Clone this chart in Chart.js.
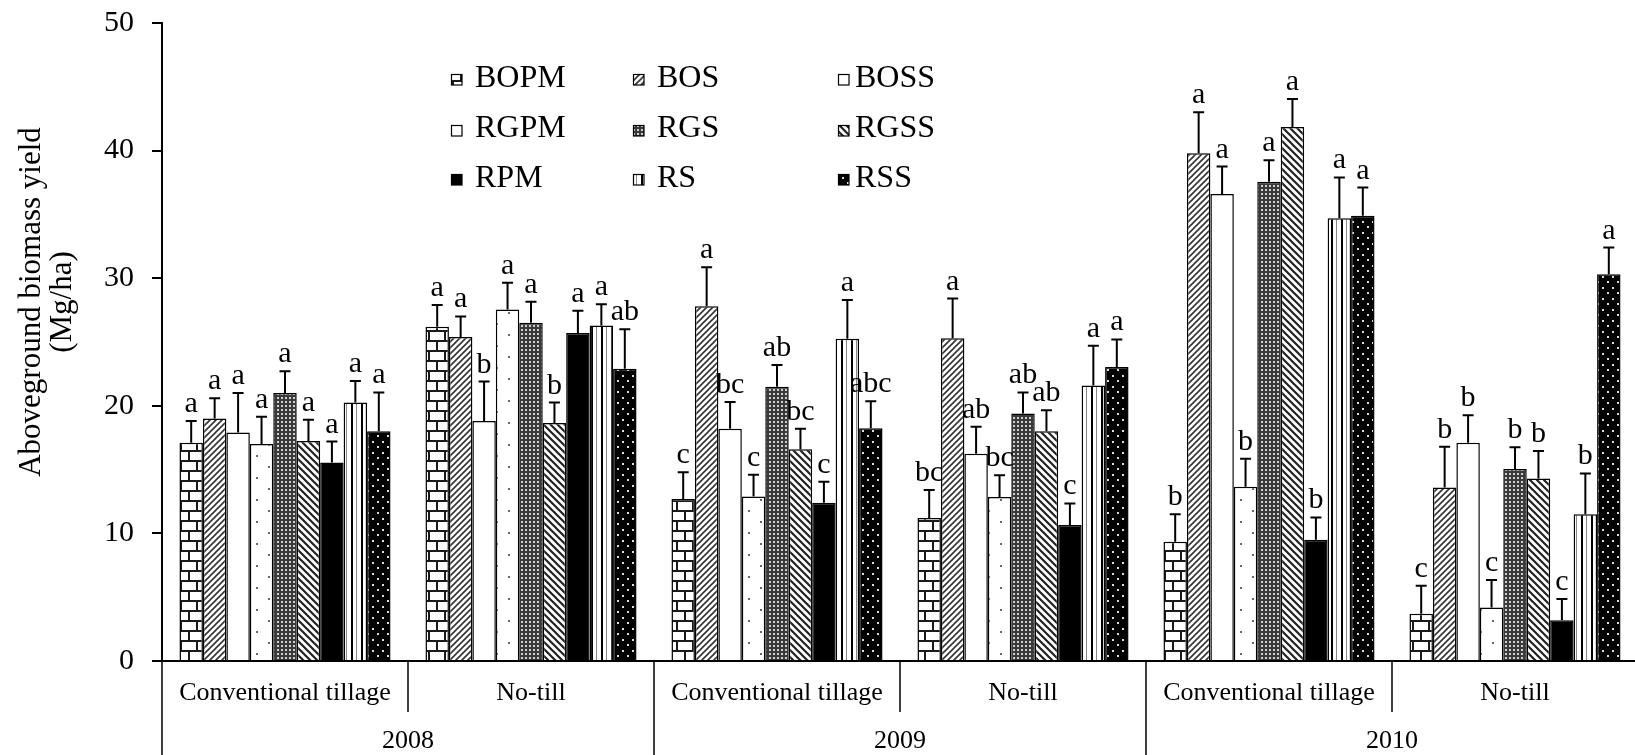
<!DOCTYPE html>
<html>
<head>
<meta charset="utf-8">
<script src="https://cdn.jsdelivr.net/npm/chart.js@4.4.1/dist/chart.umd.min.js"></script>
<style>
  html, body { margin: 0; padding: 0; background: #fff; overflow: hidden; }
  canvas { display: block; }
</style>
</head>
<body>
<canvas id="grafico" width="1638" height="755"></canvas>
<script>
// tratamientos (series)
var series = ['BOPM', 'BOS', 'BOSS', 'RGPM', 'RGS', 'RGSS', 'RPM', 'RS', 'RSS'];

// categorías: labranza dentro de cada año
var labranza = ['Conventional tillage', 'No-till', 'Conventional tillage', 'No-till', 'Conventional tillage', 'No-till'];
var anios = ['2008', '2009', '2010'];

// rendimiento medio (Mg/ha) por tratamiento
var bopm = [17.1, 26.2, 12.7, 11.2, 9.35, 3.7];
var bos = [19.0, 25.4, 27.8, 25.3, 39.8, 13.6];
var boss = [17.9, 18.8, 18.2, 16.25, 36.6, 17.1];
var rgpm = [17.0, 27.55, 12.9, 12.85, 13.65, 4.2];
var rgs = [21.0, 26.5, 21.5, 19.4, 37.55, 15.05];
var rgss = [17.25, 18.65, 16.6, 18.0, 41.85, 14.3];
var rpm = [15.55, 25.7, 12.4, 10.65, 9.5, 3.2];
var rs = [20.25, 26.3, 25.25, 21.6, 34.7, 11.5];
var rss = [18.0, 22.9, 18.25, 23.05, 34.9, 30.3];

// error estándar (barra superior)
var errBopm = [1.7, 1.7, 2.1, 2.2, 2.15, 2.2];
var errBos = [1.6, 1.6, 3.05, 3.1, 3.2, 3.2];
var errBoss = [3.1, 3.1, 2.1, 2.1, 2.15, 2.15];
var errRgpm = [2.15, 2.1, 1.7, 1.7, 2.2, 2.15];
var errRgs = [1.7, 1.65, 1.7, 1.65, 1.7, 1.7];
var errRgss = [1.65, 1.6, 1.6, 1.65, 2.2, 2.15];
var errRpm = [1.65, 1.75, 1.65, 1.7, 1.75, 1.65];
var errRs = [1.7, 1.65, 3.05, 3.1, 3.2, 3.2];
var errRss = [3.05, 3.1, 2.1, 2.15, 2.2, 2.1];

// letras de significancia
var letBopm = ['a', 'a', 'c', 'bc', 'b', 'c'];
var letBos = ['a', 'a', 'a', 'a', 'a', 'b'];
var letBoss = ['a', 'b', 'bc', 'ab', 'a', 'b'];
var letRgpm = ['a', 'a', 'c', 'bc', 'b', 'c'];
var letRgs = ['a', 'a', 'ab', 'ab', 'a', 'b'];
var letRgss = ['a', 'b', 'bc', 'ab', 'a', 'b'];
var letRpm = ['a', 'a', 'c', 'c', 'b', 'c'];
var letRs = ['a', 'a', 'a', 'a', 'a', 'b'];
var letRss = ['a', 'ab', 'abc', 'a', 'a', 'a'];

var valores = [bopm, bos, boss, rgpm, rgs, rgss, rpm, rs, rss];
var errores = [errBopm, errBos, errBoss, errRgpm, errRgs, errRgss, errRpm, errRs, errRss];
var letras = [letBopm, letBos, letBoss, letRgpm, letRgs, letRgss, letRpm, letRs, letRss];

var yTicks = [0, 10, 20, 30, 40, 50];

var FUENTE = 'Liberation Serif';
Chart.defaults.font.family = FUENTE;
Chart.defaults.color = '#000';

var canvas = document.getElementById('grafico');
var ctx = canvas.getContext('2d');

// crea un patrón de relleno a partir de un pequeño lienzo
function patron(w, h, dibujar) {
    var c = document.createElement('canvas');
    c.width = w; c.height = h;
    var g = c.getContext('2d');
    g.fillStyle = '#fff';
    g.fillRect(0, 0, w, h);
    dibujar(g, w, h);
    return ctx.createPattern(c, 'repeat');
}

function diagonal(g, w, h, sube, grosor, color) {
    g.strokeStyle = color;
    g.lineWidth = grosor;
    g.beginPath();
    for (var k = -1; k <= 1; k++) {
        if (sube) {
            g.moveTo(k * w - 1, h + 1);
            g.lineTo(k * w + w + 1, -1);
        } else {
            g.moveTo(k * w - 1, -1);
            g.lineTo(k * w + w + 1, h + 1);
        }
    }
    g.stroke();
}

var rellenos = [
    // ladrillos
    patron(16, 20, function(g) {
        g.fillStyle = '#1a1a1a';
        g.fillRect(0, 0, 16, 2);
        g.fillRect(0, 10, 16, 2);
        g.fillRect(4, 0, 2, 10);
        g.fillRect(12, 10, 2, 10);
    }),
    patron(6, 6, function(g, w, h) { diagonal(g, w, h, true, 1.6, '#333'); }),
    '#ffffff',
    // puntos dispersos
    patron(24, 22, function(g) {
        g.fillStyle = '#666';
        g.fillRect(4, 4, 2, 2);
        g.fillRect(16, 15, 2, 2);
    }),
    // trama gris
    patron(4, 4, function(g) {
        g.fillStyle = '#3a3a3a';
        g.fillRect(0, 0, 4, 4);
        g.fillStyle = '#d0d0d0';
        g.fillRect(1, 1, 2, 2);
    }),
    patron(7, 7, function(g, w, h) { diagonal(g, w, h, false, 2.2, '#222'); }),
    '#000000',
    // rayas verticales
    patron(10, 4, function(g) {
        g.fillStyle = '#000';
        g.fillRect(1, 0, 2, 4);
        g.fillStyle = '#888';
        g.fillRect(6, 0, 1, 4);
    }),
    // negro con puntos blancos
    patron(10, 11, function(g) {
        g.fillStyle = '#000';
        g.fillRect(0, 0, 10, 11);
        g.fillStyle = '#ddd';
        g.fillRect(2, 1, 2, 2);
        g.fillRect(7, 6, 2, 2);
    })
];

var datasets = series.map(function(nombre, i) {
    return {
        label: nombre,
        data: valores[i],
        backgroundColor: rellenos[i],
        borderColor: '#000',
        borderWidth: 1.5,
        categoryPercentage: 0.858,
        barPercentage: 1.0
    };
});

// barras de error, letras, leyenda y rótulos del eje x
var extras = {
    id: 'extras',
    afterDatasetsDraw: function(chart) {
        var c = chart.ctx;
        var y = chart.scales.y;
        c.save();
        c.strokeStyle = '#000';
        c.fillStyle = '#000';
        c.lineWidth = 2;
        c.font = '30px "' + FUENTE + '"';
        c.textAlign = 'center';
        c.textBaseline = 'alphabetic';
        datasets.forEach(function(ds, i) {
            var meta = chart.getDatasetMeta(i);
            meta.data.forEach(function(bar, j) {
                var tope = y.getPixelForValue(valores[i][j] + errores[i][j]);
                c.beginPath();
                c.moveTo(bar.x, bar.y);
                c.lineTo(bar.x, tope);
                c.moveTo(bar.x - 5.5, tope);
                c.lineTo(bar.x + 5.5, tope);
                c.stroke();
                c.fillText(letras[i][j], bar.x, tope - 9);
            });
        });
        c.restore();
    },
    afterDraw: function(chart) {
        var c = chart.ctx;
        var x = chart.scales.x;
        var area = chart.chartArea;
        c.save();

        // leyenda 3 x 3
        var colCaja = [451, 633, 838];
        var colTexto = [475, 657, 855];
        var filaCaja = [74, 125, 174];
        var filaTexto = [87, 137, 187];
        c.font = '32px "' + FUENTE + '"';
        c.textAlign = 'left';
        c.textBaseline = 'alphabetic';
        series.forEach(function(nombre, i) {
            var col = i % 3, fila = Math.floor(i / 3);
            c.fillStyle = rellenos[i];
            c.fillRect(colCaja[col], filaCaja[fila], 11, 11);
            c.strokeStyle = '#000';
            c.lineWidth = 1.2;
            c.strokeRect(colCaja[col] + 0.5, filaCaja[fila] + 0.5, 10.5, 10.5);
            c.fillStyle = '#000';
            c.fillText(nombre, colTexto[col], filaTexto[fila]);
        });

        // tabla de categorías bajo el eje
        var base = area.bottom;
        c.strokeStyle = '#000';
        c.lineWidth = 1.5;
        c.beginPath();
        c.moveTo(area.left, base);
        c.lineTo(area.left, chart.height);
        for (var k = 0; k < labranza.length - 1; k++) {
            var limite = (x.getPixelForValue(k) + x.getPixelForValue(k + 1)) / 2;
            c.moveTo(limite, base);
            c.lineTo(limite, k % 2 === 1 ? chart.height : base + 51);
        }
        c.stroke();

        c.fillStyle = '#000';
        c.textAlign = 'center';
        c.textBaseline = 'middle';
        c.font = '26px "' + FUENTE + '"';
        labranza.forEach(function(t, k) {
            c.fillText(t, x.getPixelForValue(k), base + 32);
        });
        anios.forEach(function(t, k) {
            var centro = (x.getPixelForValue(2 * k) + x.getPixelForValue(2 * k + 1)) / 2;
            c.fillText(t, centro, base + 80);
        });

        // título del eje y
        c.font = '31px "' + FUENTE + '"';
        c.translate(32, 302);
        c.rotate(-Math.PI / 2);
        c.fillText('Aboveground biomass yield', 0, 0);
        c.fillText('(Mg/ha)', 0, 31);
        c.restore();
    }
};

var grafico = new Chart(ctx, {
    type: 'bar',
    data: {
        labels: labranza,
        datasets: datasets
    },
    options: {
        responsive: false,
        animation: false,
        layout: { padding: { top: 23, left: 0, right: 0, bottom: 0 } },
        plugins: {
            legend: { display: false },
            tooltip: { enabled: false }
        },
        scales: {
            x: {
                ticks: { display: false },
                grid: { display: false, drawTicks: false },
                border: { display: true, color: '#000', width: 2 },
                afterFit: function(scale) { scale.height = 94; }
            },
            y: {
                min: 0,
                max: 50,
                afterBuildTicks: function(scale) {
                    scale.ticks = yTicks.map(function(v) { return { value: v }; });
                },
                ticks: {
                    color: '#000',
                    padding: 18,
                    font: { family: FUENTE, size: 30 }
                },
                grid: {
                    drawOnChartArea: false,
                    drawTicks: true,
                    tickLength: 10,
                    color: '#000',
                    lineWidth: 2
                },
                border: { display: true, color: '#000', width: 2 },
                afterFit: function(scale) {
                    scale.width = 162;
                    scale.paddingTop = 0;
                }
            }
        }
    },
    plugins: [extras]
});
</script>
</body>
</html>
